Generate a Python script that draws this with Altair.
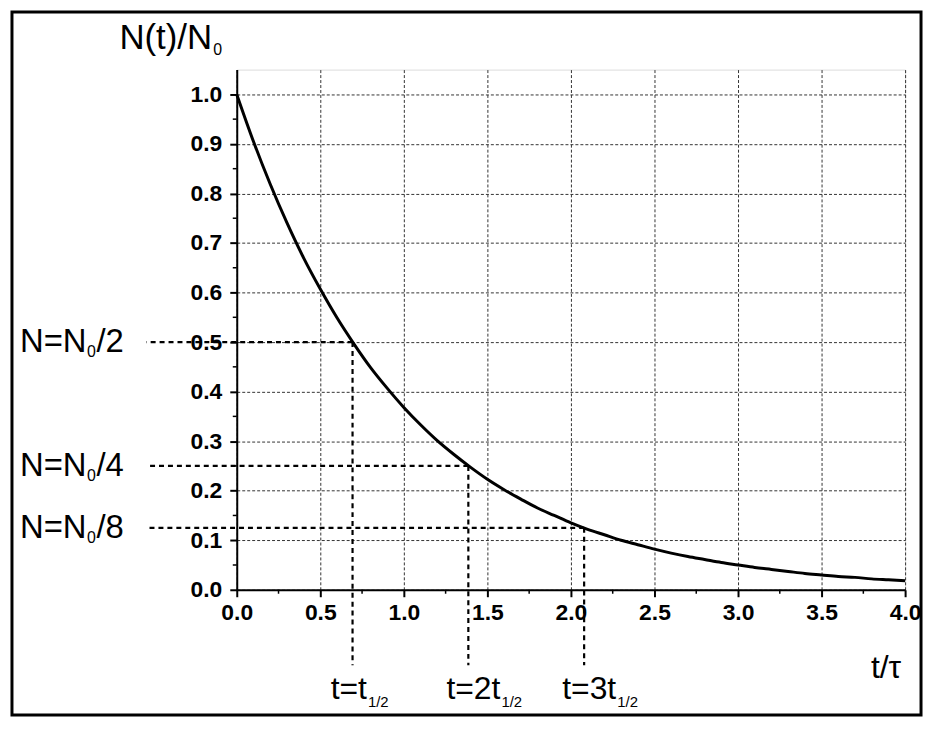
import altair as alt
import pandas as pd

# ---- data ----
t_vals = [0.0, 0.1, 0.2, 0.3, 0.4, 0.5, 0.6, 0.7, 0.8, 0.9, 1.0, 1.1, 1.2, 1.3, 1.4,
          1.5, 1.6, 1.7, 1.8, 1.9, 2.0, 2.1, 2.2, 2.3, 2.4, 2.5, 2.6, 2.7, 2.8, 2.9,
          3.0, 3.1, 3.2, 3.3, 3.4, 3.5, 3.6, 3.7, 3.8, 3.9, 4.0]
n_vals = [1.000, 0.905, 0.819, 0.741, 0.670, 0.607, 0.549, 0.497, 0.449, 0.407,
          0.368, 0.333, 0.301, 0.273, 0.247, 0.223, 0.202, 0.183, 0.165, 0.150,
          0.135, 0.122, 0.111, 0.100, 0.091, 0.082, 0.074, 0.067, 0.061, 0.055,
          0.050, 0.045, 0.041, 0.037, 0.033, 0.030, 0.027, 0.025, 0.022, 0.020, 0.018]

half_t = [0.693, 1.386, 2.079]
half_n = [0.5, 0.25, 0.125]
half_main = ["t=t", "t=2t", "t=3t"]
half_sub = ["1/2", "1/2", "1/2"]
level_main = ["N=N", "N=N", "N=N"]
level_sub = ["0", "0", "0"]
level_tail = ["/2", "/4", "/8"]

x_ticks = [0.0, 0.5, 1.0, 1.5, 2.0, 2.5, 3.0, 3.5, 4.0]
y_ticks = [0.0, 0.1, 0.2, 0.3, 0.4, 0.5, 0.6, 0.7, 0.8, 0.9, 1.0]
x_minor = [0.25, 0.75, 1.25, 1.75, 2.25, 2.75, 3.25, 3.75]
y_minor = [0.05, 0.15, 0.25, 0.35, 0.45, 0.55, 0.65, 0.75, 0.85, 0.95]

y_title_main = "N(t)/N"
y_title_sub = "0"
x_title = "t/\u03c4"

# ---- layout / style ----
W, H = 672, 523
FONT = "Liberation Sans"
XS = alt.Scale(domain=[0, 4], nice=False, zero=False)
YS = alt.Scale(domain=[0, 1.05], nice=False, zero=False)


def X(field="t:Q"):
    return alt.X(field, scale=XS, title=None)


def Y(field="n:Q"):
    return alt.Y(field, scale=YS, title=None)


curve_df = pd.DataFrame({"t": t_vals, "n": n_vals})
half_df = pd.DataFrame({"t": half_t, "n": half_n, "main": half_main, "sub": half_sub,
                        "lmain": level_main, "lsub": level_sub, "ltail": level_tail})
xminor_df = pd.DataFrame({"t": x_minor})
yminor_df = pd.DataFrame({"n": y_minor})
one = pd.DataFrame({"a": [0], "ym": [y_title_main], "ys": [y_title_sub], "xt": [x_title]})

grid = dict(grid=True, gridColor="#333", gridDash=[3, 2], gridWidth=1)
curve = alt.Chart(curve_df).mark_line(color="black", strokeWidth=3, interpolate="monotone").encode(
    x=alt.X("t:Q", scale=XS, title=None,
            axis=alt.Axis(values=x_ticks, format=".1f", labelFont=FONT, labelFontSize=23,
                          labelFontWeight="bold", labelColor="black", labelPadding=5,
                          tickSize=7, tickWidth=2, tickColor="black",
                          domainColor="black", domainWidth=2,
                          labelFlush=False, **grid)),
    y=alt.Y("n:Q", scale=YS, title=None,
            axis=alt.Axis(values=y_ticks, format=".1f", labelFont=FONT, labelFontSize=23,
                          labelFontWeight="bold", labelColor="black", labelPadding=8,
                          tickSize=7, tickWidth=2, tickColor="black",
                          domainColor="black", domainWidth=2, **grid)),
)

xminor = alt.Chart(xminor_df).mark_rule(color="black", strokeWidth=1.5).encode(
    x=X(), y=alt.value(H), y2=alt.value(H + 4))
yminor = alt.Chart(yminor_df).mark_rule(color="black", strokeWidth=1.5).encode(
    y=Y(), x=alt.value(0), x2=alt.value(-4))

dash = dict(color="black", strokeWidth=2.2, strokeDash=[5, 4])
hlines = alt.Chart(half_df).mark_rule(**dash).encode(x=X(), x2=alt.value(-91), y=Y())
vlines = alt.Chart(half_df).mark_rule(**dash).encode(x=X(), y=Y(), y2=alt.value(599))

F = 33
lm = alt.Chart(half_df).mark_text(font=FONT, fontSize=F, align="left", baseline="middle",
                                  color="black").encode(
    x=alt.value(-218), y=Y(), text="lmain:N")
ls = alt.Chart(half_df).mark_text(font=FONT, fontSize=16, align="left", baseline="middle",
                                  color="black", dy=10).encode(
    x=alt.value(-218 + 2.028 * F + 0.5), y=Y(), text="lsub:N")
lt = alt.Chart(half_df).mark_text(font=FONT, fontSize=F, align="left", baseline="middle",
                                  color="black").encode(
    x=alt.value(-218 + 2.028 * F + 10), y=Y(), text="ltail:N")

FB = 32
bm = alt.Chart(half_df).mark_text(font=FONT, fontSize=FB, align="left", baseline="alphabetic",
                                  color="black", dx=-22).encode(
    x=X(), y=alt.value(633), text="main:N")

widths = [1.14, 1.696, 1.696]
sub_layers = []
for i in range(3):
    sub_layers.append(
        alt.Chart(half_df.iloc[[i]]).mark_text(font=FONT, fontSize=15, align="left",
                                               baseline="alphabetic", color="black",
                                               dx=-22 + widths[i] * FB + 1).encode(
            x=X(), y=alt.value(641), text="sub:N"))

ytm = alt.Chart(one).mark_text(font=FONT, fontSize=35, align="left", baseline="alphabetic",
                               color="black").encode(
    x=alt.value(-118), y=alt.value(-21), text="ym:N")
yts = alt.Chart(one).mark_text(font=FONT, fontSize=16, align="left", baseline="alphabetic",
                               color="black").encode(
    x=alt.value(-118 + 2.666 * 35 + 1), y=alt.value(-15), text="ys:N")
xt = alt.Chart(one).mark_text(font=FONT, fontSize=32, align="right", baseline="alphabetic",
                              color="black").encode(
    x=alt.value(668), y=alt.value(612), text="xt:N")

frame = alt.Chart(one).mark_rect(filled=False, stroke="black", strokeWidth=3).encode(
    x=alt.value(-226), x2=alt.value(688), y=alt.value(-58), y2=alt.value(649))

chart = alt.layer(curve, xminor, yminor, hlines, vlines, lm, ls, lt, bm, *sub_layers,
                  ytm, yts, xt, frame).properties(
    width=W, height=H,
    autosize=alt.AutoSizeParams(type="none"),
    padding={"left": 230, "top": 60, "right": 20, "bottom": 128},
).configure_view(stroke=None).configure(background="white")

chart.save("out.html", embed_options={"renderer": "svg", "actions": False})
